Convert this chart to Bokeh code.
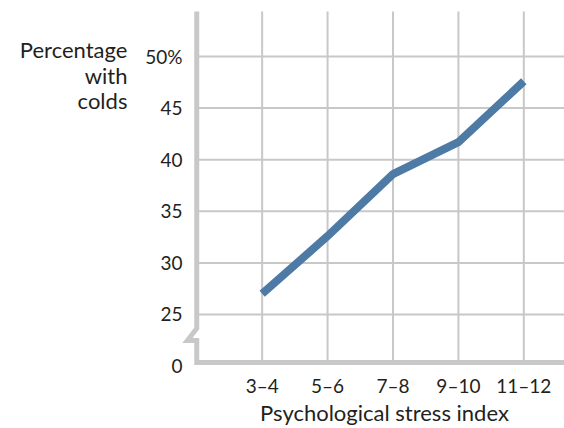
from bokeh.plotting import figure
from bokeh.models import Range1d
from bokeh.core.properties import value
from bokeh.embed import file_html
from bokeh.resources import INLINE

# ---- data ----
categories = ["3\u20134", "5\u20136", "7\u20138", "9\u201310", "11\u201312"]
pct_with_colds = [27.0, 32.6, 38.6, 41.7, 47.6]
y_tick_values = [0, 25, 30, 35, 40, 45, 50]
y_tick_labels = ["0", "25", "30", "35", "40", "45", "50%"]
x_title = "Psychological stress index"
y_title_lines = ["Percentage", "with", "colds"]

# broken axis: displayed value 0 is drawn at position BREAK_POS
BREAK_POS = 20
x_pos = list(range(1, len(categories) + 1))
y_tick_pos = [BREAK_POS if v == 0 else v for v in y_tick_values]
grid_y = [v for v in y_tick_values if v > 0]

FONT = "Lato"
TEXT = "#231f20"
GRID = "#c8c8c8"
LINE = "#4e7aa6"

# layout constants (data coordinates of the whole canvas)
X0, X1 = -3.0, 5.622
Y0, Y1 = 13.95, 55.43
TOP = 54.36          # top of axis / vertical grid
AX_Y = 20.35         # horizontal axis line
AX_X = 0.0           # vertical axis line

p = figure(width=564, height=428, output_backend="svg", toolbar_location=None,
           x_range=Range1d(X0, X1), y_range=Range1d(Y0, Y1),
           x_axis_location=None, y_axis_location=None, min_border=0)
p.outline_line_color = None
p.xgrid.visible = False
p.ygrid.visible = False
p.background_fill_color = "white"
p.border_fill_color = "white"

# grid lines
p.segment(x0=x_pos, y0=[AX_Y] * len(x_pos), x1=x_pos, y1=[TOP] * len(x_pos),
          line_color=GRID, line_width=2)
p.segment(x0=[AX_X] * len(grid_y), y0=grid_y, x1=[X1] * len(grid_y), y1=grid_y,
          line_color=GRID, line_width=2)

# axis lines with break
p.line([AX_X, AX_X, -0.142, AX_X, AX_X, X1], [TOP, 23.64, 22.48, 22.48, AX_Y, AX_Y],
       line_color=GRID, line_width=5, line_join="miter")

# data line
p.line(x_pos, pct_with_colds, line_color=LINE, line_width=8, line_join="miter")

# tick labels
p.text(x=[-0.219] * len(y_tick_pos), y=y_tick_pos, text=y_tick_labels,
       text_font=value(FONT), text_font_size="19px", text_color=TEXT,
       text_align="right", text_baseline="middle")
p.text(x=x_pos, y=[18.12] * len(x_pos), text=categories,
       text_font=value(FONT), text_font_size="19px", text_color=TEXT,
       text_align="center", text_baseline="middle")

# titles
p.text(x=[2.87], y=[15.5], text=[x_title],
       text_font=value(FONT), text_font_size="22px", text_color=TEXT,
       text_align="center", text_baseline="middle")
p.text(x=[-1.06] * 3, y=[50.68, 48.16, 45.74], text=y_title_lines,
       text_font=value(FONT), text_font_size="22px", text_color=TEXT,
       text_align="right", text_baseline="middle")

open("out.html", "w").write(file_html(p, INLINE))
